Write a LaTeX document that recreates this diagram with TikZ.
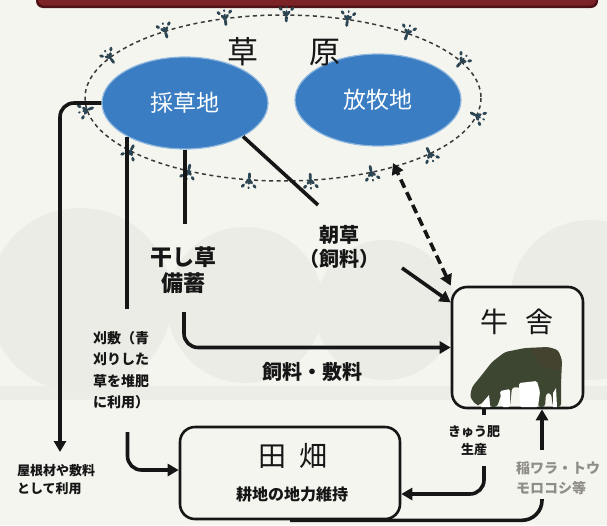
\documentclass[tikz,border=0pt]{standalone}
\usepackage{fontspec}
\newfontfamily\jp{Noto Sans CJK JP}
\usetikzlibrary{arrows.meta,shapes.geometric,decorations.markings}
\definecolor{paper}{HTML}{F5F5F0}
\definecolor{haze}{HTML}{ECECE6}
\definecolor{ink}{HTML}{161616}
\definecolor{barred}{HTML}{7C2327}
\definecolor{bardark}{HTML}{4E1216}
\definecolor{fieldblue}{HTML}{3A7DC2}
\definecolor{fieldglow}{HTML}{8FB8DE}
\definecolor{tuftc}{HTML}{2C4553}
\definecolor{cowc}{HTML}{3C4631}
\definecolor{cowtop}{HTML}{4A4230}
\definecolor{softgrey}{HTML}{8E8E86}
\tikzset{
  flow/.style={draw=ink, line width=3.6, rounded corners=14},
  tip/.tip={Triangle[length=11,width=12]},
  field/.style={ellipse, fill=fieldblue, draw=fieldglow, line width=1.2,
    minimum width=166, minimum height=92, inner sep=0,
    text=white, font=\jp\fontsize{23}{23}\selectfont},
  boxnode/.style={rectangle, rounded corners=15, draw=ink, line width=2.6,
    fill=paper, inner sep=0},
  lbl/.style={text=ink, font=\jp\bfseries\fontsize{13}{18}\selectfont,
    inner sep=0, align=left},
  biglbl/.style={text=ink, font=\jp\bfseries\fontsize{20}{24}\selectfont,
    inner sep=0, align=center},
  ring/.style={draw=ink!85, line width=1.5, dash pattern=on 4 off 3.5},
  tuftmarks/.style={postaction={decorate, decoration={markings,
      mark=between positions 0.02 and 0.99 step 0.0667 with {
        \draw[tuftc, line width=2.8, line cap=round]
          (0,6) -- (0,-1) (0,0) -- (-6.5,-7) (0,0) -- (6.5,-7);
        \draw[tuftc, line width=1.8, line cap=round] (0,0) -- (0,-8.5);
      }}}},
}
\begin{document}
\begin{tikzpicture}[x=1pt,y=-1pt]
\useasboundingbox (0,0) rectangle (607,525);
\fill[paper] (0,0) rectangle (607,525);

% faint backdrop discs
\fill[haze] (80,300) circle[radius=92];
\fill[haze] (245,305) circle[radius=78];
\fill[haze] (385,310) circle[radius=70];
\fill[haze] (590,300) circle[radius=80];
\fill[haze, opacity=0.8] (0,386) rectangle (607,400);

% header strip
\fill[bardark, rounded corners=7] (36,-12) rectangle (598,8);
\fill[barred, rounded corners=6] (38,-12) rectangle (596,5.5);

% grassland boundary with grass tufts
\path[ring, tuftmarks] (283,98) ellipse [x radius=198, y radius=83];

% fields
\node[field] (saisou) at (185,103) {採草地};
\node[field] (hoboku) at (378,100) {放牧地};
\node[text=ink, font=\jp\fontsize{31}{31}\selectfont, inner sep=0]
  (sougen) at (284,52) {草\hspace{1.65em}原};

% barn and fields boxes
\node[boxnode, minimum width=131, minimum height=121] (gyusha) at (517.5,347.5) {};
\node[text=ink, font=\jp\fontsize{28}{28}\selectfont, inner sep=0]
  (gyushaT) at (517,322) {牛\hspace{0.6em}舎};
\node[boxnode, minimum width=220, minimum height=92] (denpata) at (290,473) {};
\node[text=ink, font=\jp\fontsize{28}{28}\selectfont, inner sep=0]
  (denpataT) at (293,456) {田\hspace{0.45em}畑};
\node[text=ink, font=\jp\bfseries\fontsize{16}{16}\selectfont, inner sep=0]
  (denpataS) at (292,494) {耕地の地力維持};

% grazing cow
\fill[cowc, rounded corners=3]
  (476,405) -- (470,397) -- (472,387) -- (481,376) -- (492,362) -- (505,352)
  -- (525,348) -- (548,347) -- (558,350) -- (562,360) -- (561,385) -- (561,407)
  -- (553,407) -- (551,393) -- (546,393) -- (545,407) -- (538,407) -- (537,389)
  -- (512,387) -- (510,407) -- (503,407) -- (501,395) -- (497,407) -- (490,407)
  -- (489,395) -- (484,401) -- (480,405) -- cycle;
\fill[cowtop, opacity=0.55, rounded corners=3]
  (530,349) -- (548,347) -- (558,350) -- (562,360) -- (561,372) -- (540,366) -- cycle;
\fill[white, rounded corners=1.5]
  (519,383) -- (537,381) -- (540,392) -- (538,407) -- (520,407) -- cycle;
\fill[white, rounded corners=1.5]
  (500,391) -- (510,389) -- (510,407) -- (502,407) -- cycle;
\fill[white] (484,401) -- (489,395) -- (490,407) -- (481,407) -- cycle;
\fill[white] (553,393) -- (556,388) -- (557,407) -- (553,407) -- cycle;

% labels
\node[lbl] (roofL) at (56,480) {屋根材や敷料\\として利用};
\node[lbl, font=\jp\bfseries\fontsize{14}{21.5}\selectfont] (kariL) at (121,370)
  {刈敷（青\\刈りした\\草を堆肥\\に利用）};
\node[biglbl, font=\jp\bfseries\fontsize{22}{26}\selectfont] (hoshiL) at (183,270) {干し草\\備蓄};
\node[biglbl] (asaL) at (339,247) {朝草\\（飼料）};
\node[biglbl] (feedL) at (312,372) {飼料・敷料};
\node[lbl, align=center] (kyuhiL) at (474,441) {きゅう肥\\生産};
\node[lbl, text=softgrey, font=\jp\bfseries\fontsize{14}{20}\selectfont] (inaL) at (558,478)
  {稲ワラ・トウ\\モロコシ等};

% connectors
\coordinate (roofEnd) at (60,452);
\draw[flow, -tip] (saisou.west) -- (saisou.west -| roofEnd) -- (roofEnd);

\draw[flow] (saisou.210) -- ++(0,172);
\coordinate (kariStart) at (127.5,432);
\draw[flow, -tip] (kariStart) |- (denpata.west |- 0,470);

\draw[flow] (saisou.south) -- ++(0,74);
\coordinate (hoshiStart) at (184,312);
\draw[flow, -tip] (hoshiStart) |- (gyusha.west);

\coordinate (asaA) at (318,205);
\coordinate (asaB) at (402,268);
\draw[flow] (saisou.-30) -- (asaA);
\draw[flow, -tip] (asaB) -- (gyusha.146);

\coordinate (ringPt) at (393,163);
\draw[draw=ink, line width=3.6, dash pattern=on 9 off 5, tip-tip]
  (gyusha.north west) -- (ringPt);

\draw[flow] (gyusha.south -| 484,0) -- ++(0,6);
\coordinate (kyuhiStart) at (484,466);
\draw[flow, -tip] (kyuhiStart) |- (denpata.east |- 0,494);

\coordinate (inaTop) at (542,499);
\draw[flow, rounded corners=20] (denpata.south) -| (inaTop);
\coordinate (inaStart) at (542,450);
\draw[flow, -tip] (inaStart) -- (gyusha.south -| inaStart);
\end{tikzpicture}
\end{document}
